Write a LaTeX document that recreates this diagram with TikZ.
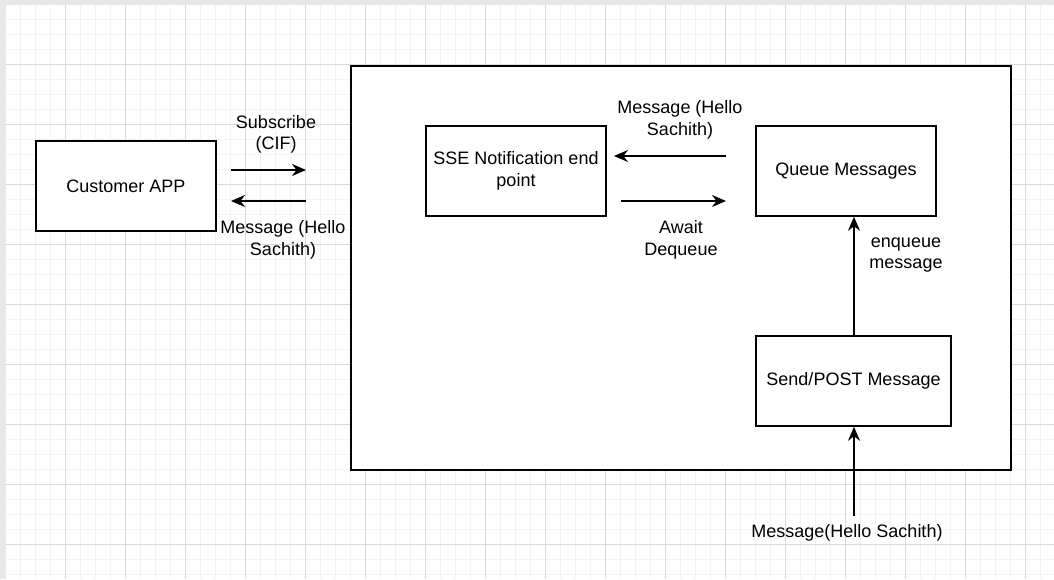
\documentclass[tikz,border=0pt]{standalone}
\usepackage{fontspec}
\setmainfont{Liberation Sans}
\usetikzlibrary{arrows.meta}
\definecolor{gridminor}{HTML}{F3F3F3}
\definecolor{gridmajor}{HTML}{DADADA}
\definecolor{edgegray}{HTML}{E8E8E8}
\newcommand\lblfont{\fontsize{18}{21.6}\selectfont}
\begin{document}
\begin{tikzpicture}[x=1pt,y=-1pt,
  box/.style={draw, fill=white, line width=1.5pt, inner sep=0pt, align=center, font=\lblfont},
  lbl/.style={align=center, inner sep=0pt, font=\lblfont},
  arr/.style={line width=1.8pt, -{Stealth[length=14pt,width=12pt,inset=4.5pt]}}]
\useasboundingbox (0,0) rectangle (1054,579);
% page background and grid
\fill[edgegray] (0,0) rectangle (1054,579);
\fill[white] (6,5) rectangle (1054,579);
\foreach \x in {20,35,...,1050} \draw[gridminor, line width=1pt] (\x,5) -- (\x,579);
\foreach \y in {19,34,...,578} \draw[gridminor, line width=1pt] (6,\y) -- (1054,\y);
\foreach \x in {65,125,...,1050} \draw[gridmajor, line width=1pt] (\x,5) -- (\x,579);
\foreach \y in {64,124,...,578} \draw[gridmajor, line width=1pt] (6,\y) -- (1054,\y);
% boxes
\node[box, minimum width=660pt, minimum height=404pt] (frame) at (681,268) {};
\node[box, minimum width=180pt, minimum height=90pt] (app) at (126,186) {Customer APP};
\node[box, minimum width=180pt, minimum height=90pt] (sse) at (516,171) {SSE Notification end\\point};
\node[box, minimum width=180pt, minimum height=90pt] (queue) at (846,171) {Queue Messages};
\node[box, minimum width=195pt, minimum height=90pt] (send) at (853.5,381) {Send/POST Message};
% labels
\node[lbl] (subl) at (276,134.5) {Subscribe\\(CIF)};
\node[lbl] (msgl1) at (283,240) {Message (Hello\\Sachith)};
\node[lbl] (msgl2) at (680,120) {Message (Hello\\Sachith)};
\node[lbl] (awaitl) at (681,240) {Await\\Dequeue};
\node[lbl] (enql) at (906,255) {enqueue\\message};
\node[lbl] (inl) at (847,532.5) {Message(Hello Sachith)};
% connector end points
\coordinate (s1) at (231,170);
\coordinate (s2) at (306,170);
\coordinate (m1) at (306,201);
\coordinate (m2) at (231,201);
\coordinate (q1) at (726,156);
\coordinate (q2) at (614,156);
\coordinate (a1) at (621,201);
\coordinate (a2) at (726,201);
\coordinate (in) at (854,516);
% connectors
\draw[arr] (s1) -- (s2);
\draw[arr] (m1) -- (m2);
\draw[arr] (q1) -- (q2);
\draw[arr] (a1) -- (a2);
\draw[arr] ([xshift=0.5pt]send.north) -- ([xshift=0.5pt]send.north |- queue.south);
\draw[arr] (in) -- (in |- send.south);
\end{tikzpicture}
\end{document}
